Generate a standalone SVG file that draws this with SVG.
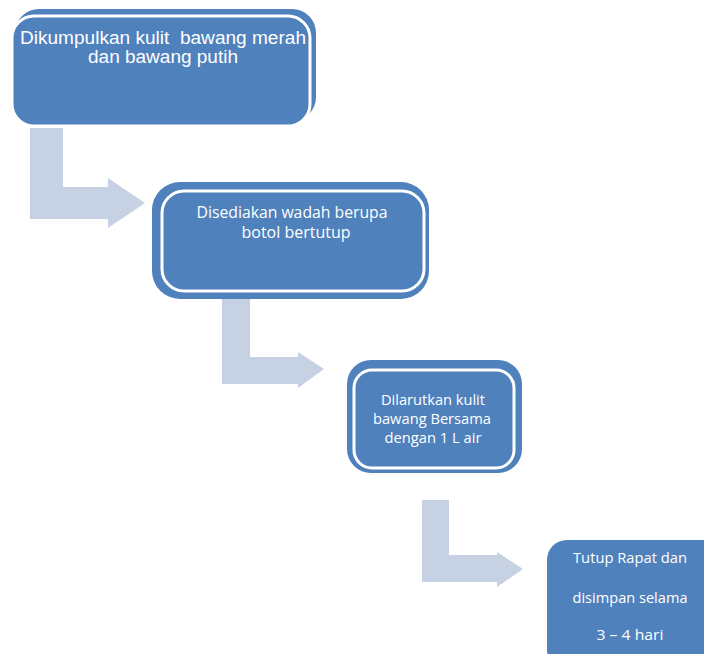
<svg xmlns="http://www.w3.org/2000/svg" width="704" height="654" viewBox="0 0 704 654">
<style>
.blue{fill:#4f81bd}
.main{fill:#4f81bd;stroke:#ffffff;stroke-width:3}
.arr{fill:#c6d1e3}
text{fill:#ffffff;font-family:"Open Sans","Liberation Sans",sans-serif;text-anchor:middle}
.t1{font-family:"Liberation Sans","Open Sans",sans-serif;font-size:17.5px}
</style>
<rect width="704" height="654" fill="#ffffff"/>
<g id="connectors">
<path class="arr" d="M30,128 H63 V187 H108 V178 L145,203 L108,228 V219 H30 Z"/>
<path class="arr" d="M222,299 H250 V357 H298 V352 L324,369 L298,388 V384 H222 Z"/>
<path class="arr" d="M422,500 H449 V555 H497 V552 L523,569 L497,587 V582 H422 Z"/>
</g>
<g id="node1">
<rect class="blue" x="15" y="9" width="301" height="112" rx="24"/>
<rect class="main" x="12" y="16" width="298" height="110" rx="22"/>
<text class="t1" x="163" y="44" xml:space="preserve" textLength="286" lengthAdjust="spacingAndGlyphs">Dikumpulkan kulit  bawang merah</text>
<text class="t1" x="163" y="63" textLength="150" lengthAdjust="spacingAndGlyphs">dan bawang putih</text>
</g>
<g id="node2">
<rect class="blue" x="152" y="182" width="277" height="117" rx="28"/>
<rect class="main" x="162" y="191" width="262" height="100" rx="22"/>
<text x="292" y="218" font-size="16" textLength="191" lengthAdjust="spacingAndGlyphs">Disediakan wadah berupa</text>
<text x="296" y="238" font-size="16" textLength="109" lengthAdjust="spacingAndGlyphs">botol bertutup</text>
</g>
<g id="node3">
<rect class="blue" x="347" y="360" width="175" height="113" rx="24"/>
<rect class="main" x="354" y="370" width="160" height="98" rx="18"/>
<text x="433" y="405" font-size="15" textLength="104" lengthAdjust="spacingAndGlyphs">Dilarutkan kulit</text>
<text x="432" y="424" font-size="15" textLength="118" lengthAdjust="spacingAndGlyphs">bawang Bersama</text>
<text x="433" y="443" font-size="15" textLength="97" lengthAdjust="spacingAndGlyphs">dengan 1 L air</text>
</g>
<g id="node4">
<rect class="blue" x="547" y="540" width="180" height="130" rx="20"/>
<text x="630" y="563" font-size="15" textLength="114" lengthAdjust="spacingAndGlyphs">Tutup Rapat dan</text>
<text x="630" y="603" font-size="15" textLength="115" lengthAdjust="spacingAndGlyphs">disimpan selama</text>
<text x="630" y="640" font-size="15" textLength="67" lengthAdjust="spacingAndGlyphs">3 – 4 hari</text>
</g>
</svg>
